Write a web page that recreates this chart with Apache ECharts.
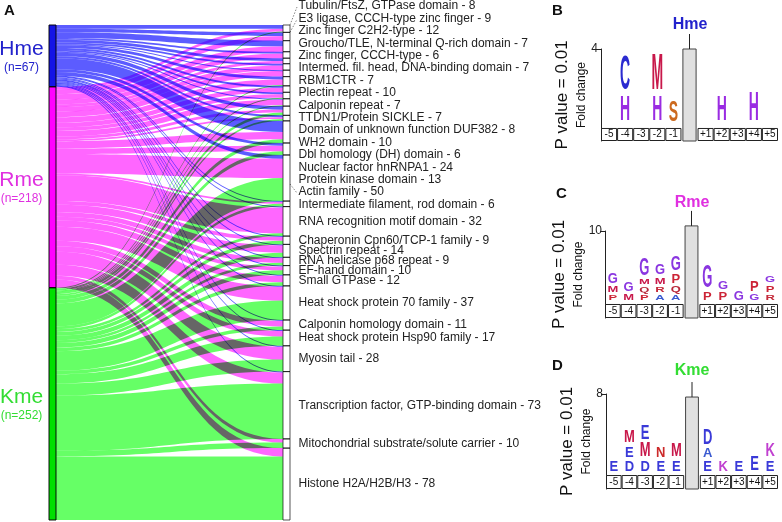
<!DOCTYPE html>
<html><head><meta charset="utf-8">
<script src="https://cdn.jsdelivr.net/npm/echarts@6/dist/echarts.min.js"></script>
<style>html,body{margin:0;padding:0;background:#fff}#c{width:782px;height:522px}</style>
</head><body><div id="c"></div>
<script>
// ---------- Panel A data (Sankey) ----------
const sources = ['Hme', 'Rme', 'Kme'];
const sourceTotals = [67, 218, 252];
const targetNames = [
  'Tubulin/FtsZ, GTPase domain', 'E3 ligase, CCCH-type zinc finger', 'Zinc finger C2H2-type',
  'Groucho/TLE, N-terminal Q-rich domain', 'Zinc finger, CCCH-type', 'Intermed. fil. head, DNA-binding domain',
  'RBM1CTR', 'Plectin repeat', 'Calponin repeat', 'TTDN1/Protein SICKLE',
  'Domain of unknown function DUF382', 'WH2 domain', 'Dbl homology (DH) domain', 'Nuclear factor hnRNPA1',
  'Protein kinase domain', 'Actin family', 'Intermediate filament, rod domain', 'RNA recognition motif domain',
  'Chaperonin Cpn60/TCP-1 family', 'Spectrin repeat', 'RNA helicase p68 repeat', 'EF-hand domain',
  'Small GTPase', 'Heat shock protein 70 family', 'Calponin homology domain', 'Heat shock protein Hsp90 family',
  'Myosin tail', 'Transcription factor, GTP-binding domain', 'Mitochondrial substrate/solute carrier', 'Histone H2A/H2B/H3'
];
const targetCounts = [8, 9, 12, 7, 6, 7, 7, 10, 7, 7, 8, 10, 6, 24, 13, 50, 6, 32, 9, 14, 9, 10, 12, 37, 11, 17, 28, 73, 10, 78];
const hmeLinks = [4, 4, 6, 2, 3, 2, 1, 3, 2, 2, 1, 4, 2, 12, 3, 4, 1, 1, 1, 1, 1, 1, 1, 1, 1, 1, 1, 1, 0, 0];
const rmeLinks = [3, 5, 6, 5, 3, 5, 6, 6, 5, 4, 6, 3, 2, 8, 6, 21, 2, 28, 4, 8, 5, 4, 7, 15, 6, 6, 14, 12, 4, 9];
const kmeLinks = [1, 0, 0, 0, 0, 0, 0, 1, 0, 1, 1, 3, 2, 4, 4, 25, 3, 3, 4, 5, 3, 5, 4, 21, 4, 10, 13, 60, 6, 69];
const leaderTargets = ['Tubulin/FtsZ, GTPase domain', 'E3 ligase, CCCH-type zinc finger', 'Actin family'];

// ---------- Panels B-D data (sequence logos) ----------
const positions = ['-5', '-4', '-3', '-2', '-1', '', '+1', '+2', '+3', '+4', '+5'];
const hmeLogo = [
  ['-4', 'H', 1.52], ['-4', 'C', 1.97],
  ['-2', 'H', 1.52], ['-2', 'M', 2.08],
  ['-1', 'S', 1.3],
  ['+2', 'H', 1.5],
  ['+4', 'H', 1.72]
];
const rmeLogo = [
  ['-5', 'P', 1.1], ['-5', 'M', 1.23], ['-5', 'G', 1.78],
  ['-4', 'M', 1.23], ['-4', 'G', 1.64],
  ['-3', 'P', 1.1], ['-3', 'Q', 1.1], ['-3', 'M', 1.1], ['-3', 'G', 2.74],
  ['-2', 'A', 1.1], ['-2', 'R', 1.1], ['-2', 'M', 1.37], ['-2', 'G', 1.78],
  ['-1', 'A', 1.1], ['-1', 'Q', 1.23], ['-1', 'P', 1.64], ['-1', 'G', 2.33],
  ['+1', 'P', 1.5], ['+1', 'G', 3.56],
  ['+2', 'P', 1.5], ['+2', 'G', 1.5],
  ['+3', 'G', 1.64],
  ['+4', 'G', 1.23], ['+4', 'P', 1.78],
  ['+5', 'R', 1.1], ['+5', 'P', 1.37], ['+5', 'G', 1.37]
];
const kmeLogo = [
  ['-5', 'E', 1.39],
  ['-4', 'D', 1.39], ['-4', 'E', 1.39], ['-4', 'M', 1.49],
  ['-3', 'D', 1.39], ['-3', 'M', 1.68], ['-3', 'E', 1.68],
  ['-2', 'E', 1.39], ['-2', 'N', 1.29],
  ['-1', 'E', 1.39], ['-1', 'M', 1.58],
  ['+1', 'E', 1.39], ['+1', 'A', 1.19], ['+1', 'D', 1.88],
  ['+2', 'K', 1.39],
  ['+3', 'E', 1.39],
  ['+4', 'E', 1.68],
  ['+5', 'E', 1.39], ['+5', 'K', 1.58]
];
const centerBarValues = [4, 10.7, 7.7];
const axisMaxValues = [4, 10, 8];
const logoTitles = ['Hme', 'Rme', 'Kme'];

// ---------- styling ----------
const FONT = 'Liberation Sans, Arial, sans-serif';
const srcNodeColors = ['#1414e6', '#ff00ff', '#00e000'];
const srcLinkColors = ['#5c5cff', '#ff66ff', '#66ff66'];
const srcLabelColors = ['#2222cc', '#e030e0', '#33dd33'];
const letterColors = {
  H: '#9a2be2', C: '#2b2bd0', M: '#c8184a', S: '#cc6a1f', G: '#8a36e0', P: '#cc2436',
  Q: '#b8283a', R: '#c42a3a', A: '#3a5ad0', E: '#3a3ad8', D: '#3a3ad8', N: '#cc2a2a', K: '#c040d0'
};
const panelLayouts = [
  {left: 601, right: 4, top: 49, bottom: 381, depth: 0.66, fs: 14, gap: 5},
  {left: 605, right: 4, top: 231, bottom: 204, depth: 1.92, fs: 13, gap: 3},
  {left: 606, right: 4, top: 394, bottom: 33, depth: 1.38, fs: 13, gap: 3}
];

// ---------- build sankey ----------
const nodes = [];
sources.forEach((s, i) => {
  nodes.push({
    name: s,
    itemStyle: {color: srcNodeColors[i], borderColor: '#111', borderWidth: 1},
    label: {
      position: 'left', distance: 5,
      formatter: '{n|' + s + '}\n{c|(n=' + sourceTotals[i] + ')}',
      rich: {
        n: {fontSize: 21, fontFamily: FONT, color: srcLabelColors[i], width: 44, align: 'center', lineHeight: 23},
        c: {fontSize: 12, fontFamily: FONT, color: srcLabelColors[i], width: 44, align: 'center', lineHeight: 14}
      }
    }
  });
});
targetNames.forEach((t, i) => {
  nodes.push({
    name: t,
    itemStyle: {color: '#ffffff', borderColor: '#555', borderWidth: 1},
    label: {position: 'right', distance: 8, formatter: t + ' - ' + targetCounts[i]}
  });
});
const links = [];
[hmeLinks, rmeLinks, kmeLinks].forEach((arr, si) => {
  arr.forEach((v, ti) => {
    if (v > 0) links.push({source: sources[si], target: targetNames[ti], value: v,
      lineStyle: {color: srcLinkColors[si], opacity: 1}});
  });
});

const series = [{
  type: 'sankey',
  left: 49, top: 25, right: 492, bottom: 2,
  nodeWidth: 7, nodeGap: 0, layoutIterations: 0,
  draggable: false, silent: true,
  blendMode: 'multiply',
  emphasis: {disabled: true},
  data: nodes, links: links,
  lineStyle: {curveness: 0.5},
  label: {fontSize: 12, fontFamily: FONT, color: '#222', lineHeight: 12}
}];

// ---------- build logos ----------
const grids = [], xAxes = [], yAxes = [];
function stackLetters(list) {
  const acc = {};
  return list.map(([pos, ch, h]) => {
    const b = acc[pos] || 0;
    acc[pos] = b + h;
    return {pos: positions.indexOf(pos), ch: ch, base: b, top: b + h};
  });
}
[hmeLogo, rmeLogo, kmeLogo].forEach((logo, i) => {
  const L = panelLayouts[i];
  grids.push({left: L.left, right: L.right, top: L.top, bottom: L.bottom});
  xAxes.push({gridIndex: i, type: 'category', data: positions, show: false, boundaryGap: true});
  yAxes.push({
    gridIndex: i, type: 'value', min: -L.depth, max: axisMaxValues[i],
    axisLine: {show: true, lineStyle: {color: '#222', width: 1}},
    axisTick: {show: true, length: 5, lineStyle: {color: '#222'}, customValues: [axisMaxValues[i]]},
    axisLabel: {fontSize: 12, fontFamily: FONT, color: '#222', margin: 3, customValues: [axisMaxValues[i]]},
    splitLine: {show: false},
    name: '{a|P value = 0.01}\n{b|Fold change}',
    nameLocation: 'middle', nameRotate: 90, nameGap: 10,
    nameTextStyle: {rich: {
      a: {fontSize: 17, fontFamily: FONT, color: '#111', lineHeight: 22},
      b: {fontSize: 12, fontFamily: FONT, color: '#111', lineHeight: 16}
    }}
  });
  series.push({
    type: 'bar', xAxisIndex: i, yAxisIndex: i, silent: true,
    barWidth: '100%', barCategoryGap: '0%',
    data: positions.map(p => p === '' ? null : -L.depth),
    itemStyle: {color: '#fff', borderColor: '#222', borderWidth: 1},
    label: {show: true, position: 'inside', fontSize: 10, fontFamily: FONT, color: '#111',
      formatter: p => p.name},
    z: 2
  });
  series.push({
    type: 'custom', xAxisIndex: i, yAxisIndex: i, silent: true, z: 3,
    data: [[positions.indexOf(''), centerBarValues[i]]],
    encode: {x: 0, y: 1},
    renderItem: (params, api) => {
      const top = api.coord([api.value(0), api.value(1)]);
      const bot = api.coord([api.value(0), -L.depth]);
      const w = api.size([1, 0])[0] * 0.82;
      return {type: 'group', children: [
        {type: 'rect', shape: {x: top[0] - w / 2, y: top[1], width: w, height: bot[1] - top[1]},
          style: {fill: '#e0e0e0', stroke: '#444', lineWidth: 1}},
        {type: 'line', shape: {x1: top[0], y1: top[1], x2: top[0], y2: top[1] - 15},
          style: {stroke: '#222', lineWidth: 1}}
      ]};
    }
  });
  const stacked = stackLetters(logo);
  series.push({
    type: 'custom', xAxisIndex: i, yAxisIndex: i, silent: true, z: 4,
    data: stacked.map(d => [d.pos, d.base, d.top]),
    encode: {x: 0, y: [1, 2]},
    renderItem: (params, api) => {
      const d = stacked[params.dataIndex];
      const pb = api.coord([api.value(0), api.value(1)]);
      const pt = api.coord([api.value(0), api.value(2)]);
      const glyph = Math.max(2, pb[1] - pt[1] - L.gap);
      const cy = pt[1] + glyph / 2;
      const cap = 0.716 * L.fs;
      return {type: 'text', x: pb[0], y: cy, scaleX: 1, scaleY: glyph / cap,
        style: {text: d.ch, x: 0, y: 0, fill: letterColors[d.ch],
          font: 'bold ' + L.fs + 'px ' + FONT, align: 'center', verticalAlign: 'middle'}};
    }
  });
});

const titleStyle = {fontSize: 15, fontWeight: 'bold', fontFamily: FONT, color: '#111'};
const titles = [
  {text: 'A', left: 4, top: 3, padding: 0, textStyle: titleStyle},
  {text: 'B', left: 552, top: 3, padding: 0, textStyle: titleStyle},
  {text: 'C', left: 556, top: 186, padding: 0, textStyle: titleStyle},
  {text: 'D', left: 552, top: 358, padding: 0, textStyle: titleStyle},
  {text: logoTitles[0], left: 690, top: 17, textAlign: 'center', padding: 0,
    textStyle: {fontSize: 16, fontWeight: 'bold', fontFamily: FONT, color: srcLabelColors[0]}},
  {text: logoTitles[1], left: 692, top: 195, textAlign: 'center', padding: 0,
    textStyle: {fontSize: 16, fontWeight: 'bold', fontFamily: FONT, color: srcLabelColors[1]}},
  {text: logoTitles[2], left: 692, top: 363, textAlign: 'center', padding: 0,
    textStyle: {fontSize: 16, fontWeight: 'bold', fontFamily: FONT, color: srcLabelColors[2]}}
];

const chart = echarts.init(document.getElementById('c'), null, {renderer: 'canvas'});
chart.setOption({
  animation: false,
  backgroundColor: '#ffffff',
  title: titles,
  grid: grids, xAxis: xAxes, yAxis: yAxes,
  series: series
});

// ---------- spread the right-hand labels so they do not overlap ----------
(function spreadTargetLabels() {
  const sm = chart.getModel().getSeriesByIndex(0);
  const data = sm.getData();
  const li = sm.layoutInfo || {x: 49, y: 25};
  const boxes = targetNames.map((t, i) => {
    const l = data.getItemLayout(sources.length + i);
    return {x: li.x + l.x, y: li.y + l.y, dx: l.dx, dy: l.dy};
  });
  const desired = boxes.map(b => b.y + b.dy / 2);
  const n = desired.length;
  const gapAfter = i => (i < 16 ? 12.4 : 9.8);
  const minY = 6, maxY = 516;
  // cluster-based relaxation
  let clusters = [];
  const offsetIn = (c, k) => { let s = 0; for (let j = c.s; j < k; j++) s += gapAfter(j); return s; };
  const place = c => {
    let sum = 0;
    for (let k = c.s; k <= c.e; k++) sum += desired[k] - offsetIn(c, k);
    c.y0 = sum / (c.e - c.s + 1);
    if (c.y0 < minY) c.y0 = minY;
    const endY = c.y0 + offsetIn(c, c.e);
    if (endY > maxY) c.y0 -= endY - maxY;
  };
  for (let i = 0; i < n; i++) {
    const c = {s: i, e: i};
    place(c);
    clusters.push(c);
    while (clusters.length > 1) {
      const a = clusters[clusters.length - 2], b = clusters[clusters.length - 1];
      const aEnd = a.y0 + offsetIn(a, a.e);
      if (aEnd + gapAfter(a.e) > b.y0) {
        const m = {s: a.s, e: b.e};
        place(m);
        clusters.splice(clusters.length - 2, 2, m);
      } else break;
    }
  }
  const finalY = new Array(n);
  clusters.forEach(c => { for (let k = c.s; k <= c.e; k++) finalY[k] = c.y0 + offsetIn(c, k); });
  const graphics = [];
  targetNames.forEach((t, i) => {
    nodes[sources.length + i].label.offset = [0, finalY[i] - desired[i]];
    if (leaderTargets.indexOf(t) >= 0) {
      const b = boxes[i];
      const fromY = finalY[i] < b.y ? b.y : Math.min(b.y + b.dy, Math.max(b.y, finalY[i] - 8));
      graphics.push({type: 'line', silent: true,
        shape: {x1: b.x + b.dx, y1: fromY, x2: b.x + b.dx + 7, y2: finalY[i] + 1},
        style: {stroke: '#666', lineWidth: 0.8, lineDash: [1.5, 1.5]}});
    }
  });
  chart.setOption({series: [{data: nodes}], graphic: graphics});
})();
</script></body></html>
